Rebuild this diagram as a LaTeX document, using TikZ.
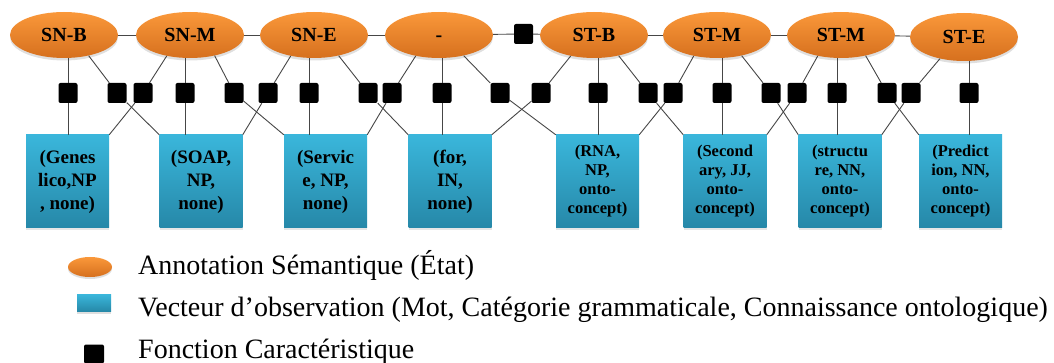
\documentclass[tikz,border=0pt]{standalone}
\usepackage{fontspec}
\setmainfont{Liberation Serif}
\usetikzlibrary{shapes.geometric,shadows}

\definecolor{orTop}{RGB}{250,152,58}
\definecolor{orBot}{RGB}{214,112,30}
\definecolor{blTop}{RGB}{58,182,219}
\definecolor{blBot}{RGB}{38,136,168}
\definecolor{lineGray}{RGB}{70,70,70}

\begin{document}
\begin{tikzpicture}[x=1pt,y=-1pt,
  state/.style={ellipse, minimum width=108pt, minimum height=46pt, inner sep=0pt,
    top color=orTop, bottom color=orBot,
    drop shadow={opacity=0.25, shadow xshift=0pt, shadow yshift=-2.5pt},
    font=\fontsize{20}{22}\selectfont\bfseries,
    execute at begin node=\vphantom{SN}},
  obs/.style={rectangle, minimum width=83pt, minimum height=93pt, inner sep=0pt,
    top color=blTop, bottom color=blBot, align=center,
    drop shadow={opacity=0.2, shadow xshift=0pt, shadow yshift=-2pt}},
  obsA/.style={obs, font=\fontsize{19}{23}\selectfont\bfseries},
  obsB/.style={obs, font=\fontsize{16.5}{19}\selectfont\bfseries},
  feat/.style={rectangle, rounded corners=2pt, fill=black,
    minimum width=19pt, minimum height=20pt, inner sep=0pt},
  link/.style={draw=lineGray, line width=0.9pt},
  legendtext/.style={anchor=base west, inner sep=0pt, font=\fontsize{28}{30}\selectfont}]

\useasboundingbox (0,0) rectangle (1054,363);

% states (semantic annotations)
\node[state] (e1) at (64,35)  {SN-B};
\node[state] (e2) at (190,35) {SN-M};
\node[state] (e3) at (314,35) {SN-E};
\node[state] (e4) at (439,35) {-};
\node[state] (e5) at (594,35) {ST-B};
\node[state] (e6) at (717,35) {ST-M};
\node[state] (e7) at (841,35) {ST-M};
\node[state, minimum height=48pt] (e8) at (964,37) {ST-E};

% transition feature between the two segments
\node[feat] (fm) at (523.5,34) {};

% observation vectors
\node[obsA] (b1) at (67.5,181.5)  {(Genes\\lico,NP\\, none)};
\node[obsA] (b2) at (201,181.5)   {(SOAP,\\NP,\\none)};
\node[obsA] (b3) at (325.5,181.5) {(Servic\\e, NP,\\none)};
\node[obsA] (b4) at (450,181.5)   {(for,\\IN,\\none)};
\node[obsB] (b5) at (597.5,181.5) {(RNA,\\NP,\\onto-\\concept)};
\node[obsB] (b6) at (725,181.5)   {(Second\\ary, JJ,\\onto-\\concept)};
\node[obsB] (b7) at (840,181.5)   {(structu\\re, NN,\\onto-\\concept)};
\node[obsB] (b8) at (960.5,181.5) {(Predict\\ion, NN,\\onto-\\concept)};

% feature functions
\foreach \n/\x in {1/68,2/117,3/143,4/185,5/234,6/268,7/309,8/368,9/392,10/442,11/500,
                   12/541,13/598,14/648,15/673,16/722,17/771,18/797,19/837,20/887,21/911,22/969}
  \node[feat] (f\n) at (\x,93) {};

% chain between states
\draw[link] (e1) -- (e2);
\draw[link] (e2) -- (e3);
\draw[link] (e3) -- (e4);
\draw[link] (e4) -- (fm);
\draw[link] (fm) -- (e5);
\draw[link] (e5) -- (e6);
\draw[link] (e6) -- (e7);
\draw[link] (e7) -- (e8);

% vertical features: state -> feature -> observation
\foreach \f/\e/\b in {1/1/1,4/2/2,7/3/3,10/4/4,13/5/5,16/6/6,19/7/7,22/8/8} {
  \draw[link] (f\f.north) -- (f\f.north |- e\e.south);
  \draw[link] (f\f.south) -- (f\f.south |- b\b.north);
}

% crossed features: state i -> observation i+1
\foreach \f/\e/\b in {2/1/2,5/2/3,8/3/4,11/4/5,14/5/6,17/6/7,20/7/8} {
  \draw[link] (e\e.-40) -- (f\f);
  \draw[link] (f\f) -- (b\b.north west);
}

% crossed features: state i+1 -> observation i
\foreach \f/\e/\b in {3/2/1,6/3/2,9/4/3,12/5/4,15/6/5,18/7/6,21/8/7} {
  \draw[link] (e\e.-138) -- (f\f);
  \draw[link] (f\f) -- (b\b.north east);
}

% legend
\node[ellipse, minimum width=44pt, minimum height=20pt, inner sep=0pt,
  top color=orTop, bottom color=orBot,
  drop shadow={opacity=0.25, shadow xshift=0pt, shadow yshift=-2pt}] (lgA) at (90,267) {};
\node[legendtext] (tA) at (138,275) {Annotation Sémantique (État)};

\node[rectangle, minimum width=34pt, minimum height=17pt, inner sep=0pt,
  top color=blTop, bottom color=blBot,
  drop shadow={opacity=0.25, shadow xshift=0pt, shadow yshift=-2pt}] (lgB) at (94,303) {};
\node[legendtext] (tB) at (138,316) {Vecteur d’observation (Mot, Catégorie grammaticale, Connaissance ontologique)};

\node[feat, minimum width=20pt, minimum height=19pt] (lgC) at (94,354) {};
\node[legendtext] (tC) at (138,358) {Fonction Caractéristique};

\end{tikzpicture}
\end{document}
